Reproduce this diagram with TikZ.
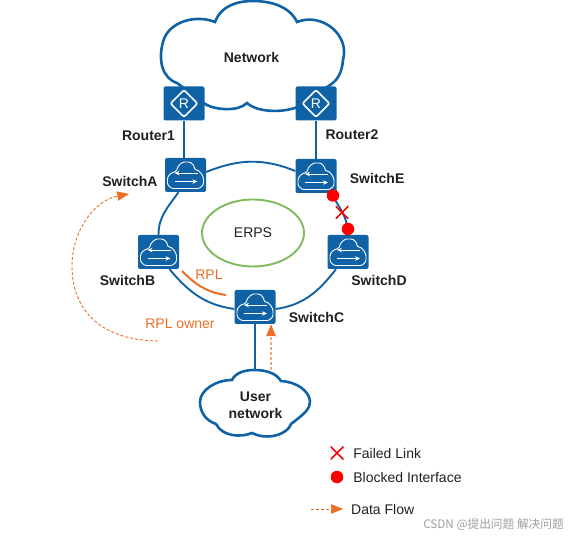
\documentclass[tikz,border=0pt]{standalone}
\usepackage{fontspec}
\setmainfont{Liberation Sans}
\newfontfamily\cjkfont{Noto Sans CJK SC}
\usetikzlibrary{shapes.geometric,arrows.meta,positioning,calc}
\definecolor{devblue}{HTML}{0F62A6}
\definecolor{flow}{HTML}{EC6D23}
\definecolor{erpsgreen}{HTML}{7DBB5C}
\definecolor{ink}{HTML}{231F20}
\begin{document}
\begin{tikzpicture}[x=1pt,y=-1pt,node distance=8pt,every node/.style={font=\fontsize{14}{16}\selectfont,text=ink},
 devbox/.style={fill=devblue,rounded corners=2pt,minimum width=41pt,minimum height=34pt,inner sep=0pt},
 switchbox/.style={devbox,path picture={
  \begin{scope}[shift={(path picture bounding box.center)}]
  \draw[white,line width=.9pt](-10,13.5) .. controls (-15,13.5) and (-18,10) .. (-18,6)
   .. controls (-18,1) and (-14,-3) .. (-9,-3) .. controls (-8,-10) and (-3,-13) .. (1,-13)
   .. controls (6,-13) and (9,-9) .. (9,-5) .. controls (14,-5) and (18,1) .. (18,6)
   .. controls (18,10) and (15,13.5) .. (10,13.5)--cycle;
  \draw[white,line width=.8pt,-{Stealth[length=5pt,width=4.5pt]}](12,-2)--(-11,-2);
  \draw[white,line width=.8pt,-{Stealth[length=5pt,width=4.5pt]}](-11,6.5)--(12,6.5);
  \end{scope}}},
 routerbox/.style={devbox,path picture={
  \begin{scope}[shift={(path picture bounding box.center)}]
  \draw[white,line width=1.7pt](0,-13.5)--(13.5,0)--(0,13.5)--(-13.5,0)--cycle;
  \end{scope}}},
 routerletter/.style={text=white,inner sep=0pt},
 lbl/.style={font=\fontsize{14}{16}\selectfont\bfseries,inner sep=0pt,text height=10pt,text depth=0pt},
 note/.style={font=\fontsize{14}{16}\selectfont,inner sep=0pt,text height=10pt,text depth=0pt},
 ringlink/.style={draw=devblue,line width=1.9pt},
 uplink/.style={draw=devblue,line width=2pt},
 cloudline/.style={draw=devblue,line width=2.6pt,fill=white},
 blocked/.style={circle,fill=red,minimum size=12.5pt,inner sep=0pt},
 failed/.style={minimum size=13pt,inner sep=0pt,path picture={
  \draw[red,line width=1.6pt](path picture bounding box.north west)--(path picture bounding box.south east)
   (path picture bounding box.north east)--(path picture bounding box.south west);}},
 flowline/.style={draw=flow,densely dashed,line width=.9pt,-{Stealth[inset=.5pt,length=12pt,width=9.5pt,color=flow,fill=flow]}}]
\useasboundingbox(0,0)rectangle(579,540);
% clouds
\draw[cloudline](215,22) .. controls (222,4) and (240,1) .. (253,1) .. controls (272,1) and (290,7) .. (297,22)
 .. controls (322,12) and (350,35) .. (343,60) .. controls (342,72) and (338,80) .. (330,85)
 -- (300,106) .. controls (285,113) and (258,113) .. (247,103) .. controls (238,112) and (215,110) .. (205,104)
 -- (177,83) .. controls (162,78) and (158,60) .. (163,42) .. controls (168,22) and (195,14) .. (215,22)--cycle;
\draw[cloudline](232,380) .. controls (236,372) and (246,370) .. (254,370) .. controls (266,370) and (276,373) .. (281,381)
 .. controls (297,382) and (309,391) .. (310,401) .. controls (310,408) and (307,412) .. (291,424)
 .. controls (288,434) and (268,441) .. (252,433) .. controls (240,438) and (222,436) .. (216,424)
 .. controls (204,420) and (200,410) .. (200,402) .. controls (200,390) and (216,380) .. (232,380)--cycle;
\node[lbl](netw) at (251.5,58){Network};
\node[align=center,font=\fontsize{14}{17}\selectfont\bfseries](usernet) at (255.5,405.5){User\\network};
\coordinate(usertop) at (255,370);
% devices
\node[routerbox](r1) at (184,103.5){};
\node[routerbox](r2) at (316,103.5){};
\node[routerletter](r1t) at (r1){R};
\node[routerletter](r2t) at (r2){R};
\node[switchbox](sa) at (185.5,175){};
\node[switchbox](se) at (316,176){};
\node[switchbox](sb) at (158.5,252){};
\node[switchbox](sd) at (348,252){};
\node[switchbox](sc) at (255,307){};
\node[draw=erpsgreen,line width=1.9pt,ellipse,minimum width=102pt,minimum height=67pt,inner sep=0pt](erps) at (253,233){ERPS};
% links
\draw[uplink](r1)--(r1|-sa.north);\draw[uplink](r2)--(r2|-se.north);
\draw[ringlink]([yshift=3pt]sa.east) to[out=22,in=158] ([yshift=5pt]se.west);
\draw[ringlink]([xshift=-7pt]sa.south) to[out=-125,in=90] (sb.north);
\draw[ringlink]([xshift=11pt]sb.south) to[out=-50,in=172] ([yshift=-2pt]sc.west);
\draw[ringlink]([yshift=-2pt]sc.east) to[out=8,in=-128] ([xshift=-12pt]sd.south);
\draw[ringlink]([xshift=15pt]se.south) to[out=-60,in=90] (sd.north);
\draw[uplink](sc)--(usertop);
% labels
\node[lbl,below=9.5pt of r1,xshift=-35.5pt](r1lbl){Router1};
\node[lbl,below=8.5pt of r2,xshift=36pt](r2lbl){Router2};
\node[lbl,left=7pt of sa,yshift=-7pt](salbl){SwitchA};
\node[lbl,right=13pt of se,yshift=-3pt](selbl){SwitchE};
\node[lbl,below=6pt of sb,xshift=-31pt](sblbl){SwitchB};
\node[lbl,below=6pt of sd,xshift=31pt](sdlbl){SwitchD};
\node[lbl,right=13pt of sc,yshift=-11pt](sclbl){SwitchC};
% rpl
\coordinate(rplstart) at (182,271);\coordinate(rplend) at (226,295);
\draw[flow,line width=2pt](rplstart) to[out=-45,in=172] (rplend);
\node[note,text=flow](rpl) at (209,275){RPL};
\node[note,text=flow](owner) at (180,324){RPL owner};
\coordinate(ownerstart) at (158,341);\coordinate(ownerend) at (129,194);
\draw[flowline](ownerstart) .. controls (95,340) and (72,305) .. (72,266) .. controls (72,230) and (95,200) .. (ownerend);
% blocked link
\node[blocked](be) at (333,195.5){};
\node[blocked](bd) at (348,229){};
\node[failed](fx) at (342,212.5){};
% data flow
\coordinate(userup) at (271,370);
\draw[flowline,draw=flow!60,line width=1.5pt](userup)--(userup|-sc.south);
% legend
\node[failed](lfx) at (337,453){};
\node[note,right=9.5pt of lfx](lfxt){Failed Link};
\node[blocked](lbd) at (337,477){};
\node[note,anchor=west](lbdt) at (lfxt.west|-lbd){Blocked Interface};
\coordinate(lfl) at (311,509);\coordinate(lfr) at (343,509);
\draw[flowline](lfl)--(lfr);
\node[note,right=8pt of lfr](lflt){Data Flow};
\node[font=\fontsize{11.7}{14}\selectfont\cjkfont,text=black!38,anchor=east,inner sep=0pt](mark) at (564,525){CSDN @提出问题 解决问题};
\end{tikzpicture}
\end{document}
